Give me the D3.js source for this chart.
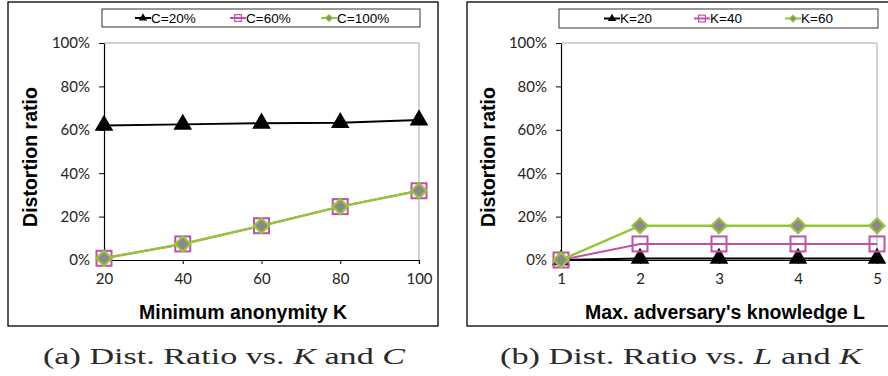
<!DOCTYPE html>
<html>
<head>
<meta charset="utf-8">
<script src="https://cdn.jsdelivr.net/npm/d3@7"></script>
<style>
  html, body { margin: 0; padding: 0; background: #fff; }
  svg { display: block; }
</style>
</head>
<body>
<svg id="chart" width="888" height="376"></svg>
<script>
  // data
  const kValues = [20, 40, 60, 80, 100];
  const lValues = [1, 2, 3, 4, 5];
  const yTicks = [0, 0.2, 0.4, 0.6, 0.8, 1.0];

  const c20 = [0.620, 0.625, 0.630, 0.633, 0.645];
  const c60 = [0.008, 0.074, 0.158, 0.246, 0.319];
  const c100 = [0.008, 0.074, 0.158, 0.246, 0.319];

  const k20 = [0.0, 0.007, 0.007, 0.007, 0.007];
  const k40 = [0.0, 0.074, 0.074, 0.074, 0.074];
  const k60 = [0.0, 0.158, 0.158, 0.158, 0.158];

  const PINK = "#c050aa", GREEN = "#98c43c", GRAY = "#8a8a8a";

  const styles = {
    tri:  { stroke: "#000", width: 2, marker: "tri" },
    sq:   { stroke: PINK, width: 2, marker: "sq" },
    dia:  { stroke: GREEN, width: 2.5, marker: "dia" }
  };

  const panels = [
    {
      frame: [8, 2, 438, 326],
      plot: { x0: 104, x1: 419, yTop: 43, yBot: 260 },
      cats: kValues,
      series: [
        { name: "C=20%", values: c20, st: styles.tri },
        { name: "C=60%", values: c60, st: styles.sq },
        { name: "C=100%", values: c100, st: styles.dia }
      ],
      legend: { box: [102, 9, 420, 27], items: [135, 230, 321] },
      xTitle: "Minimum anonymity K", xTitleX: 243,
      yTitleX: 30,
      caption: ["(a) Dist. Ratio vs. ", "K", " and ", "C"], capX: 224
    },
    {
      frame: [467, 2, 892, 326],
      plot: { x0: 561, x1: 877, yTop: 43, yBot: 260 },
      cats: lValues,
      series: [
        { name: "K=20", values: k20, st: styles.tri },
        { name: "K=40", values: k40, st: styles.sq },
        { name: "K=60", values: k60, st: styles.dia }
      ],
      legend: { box: [559, 9, 878, 28], items: [604, 694, 785] },
      xTitle: "Max. adversary's knowledge L", xTitleX: 725,
      yTitleX: 488,
      caption: ["(b) Dist. Ratio vs. ", "L", " and ", "K"], capX: 681
    }
  ];

  const svg = d3.select("#chart");

  function drawMarker(g, kind, x, y, scale) {
    const s = scale || 1;
    if (kind === "tri") {
      g.append("path")
        .attr("d", d3.symbol().type(d3.symbolTriangle).size(150 * s * s)())
        .attr("transform", `translate(${x},${y})`)
        .attr("fill", "#000");
    } else if (kind === "sq") {
      const h = 7.5 * s;
      g.append("rect")
        .attr("x", x - h).attr("y", y - h)
        .attr("width", 2 * h).attr("height", 2 * h)
        .attr("fill", "none").attr("stroke", PINK).attr("stroke-width", 2 * Math.max(s, 0.6));
    } else {
      const r = 7.5 * s;
      g.append("path")
        .attr("d", `M${x},${y - r}L${x + r},${y}L${x},${y + r}L${x - r},${y}Z`)
        .attr("fill", GRAY).attr("stroke", GREEN).attr("stroke-width", 2.2 * Math.max(s, 0.6));
    }
  }

  panels.forEach(p => {
    const g = svg.append("g");
    const [fx0, fy0, fx1, fy1] = p.frame;
    g.append("rect")
      .attr("x", fx0).attr("y", fy0)
      .attr("width", fx1 - fx0).attr("height", fy1 - fy0)
      .attr("fill", "none").attr("stroke", "#000").attr("stroke-width", 1.3);

    const x = d3.scalePoint().domain(p.cats).range([p.plot.x0, p.plot.x1]).padding(0);
    const y = d3.scaleLinear().domain([0, 1]).range([p.plot.yBot, p.plot.yTop]);

    // plot area border (top / right)
    g.append("path")
      .attr("d", `M${p.plot.x0},${p.plot.yTop}H${p.plot.x1}V${p.plot.yBot + 4}`)
      .attr("fill", "none").attr("stroke", "#a6a6a6").attr("stroke-width", 1);

    // y axis
    const yAxis = g.append("g")
      .attr("transform", `translate(${p.plot.x0},0)`)
      .call(d3.axisLeft(y).tickValues(yTicks).tickFormat(d3.format(".0%")).tickSize(5).tickSizeOuter(0));
    yAxis.attr("font-family", null).attr("font-size", null);
    yAxis.select(".domain").attr("stroke", "#000").attr("stroke-width", 1.2);
    yAxis.selectAll(".tick line").attr("stroke", "#000");
    yAxis.selectAll("text")
      .attr("x", -14)
      .style("font-family", "Lato, sans-serif").style("font-size", "15px").attr("fill", "#222");

    // x axis
    const xAxis = g.append("g")
      .attr("transform", `translate(0,${p.plot.yBot})`)
      .call(d3.axisBottom(x).tickSize(4).tickSizeOuter(0));
    xAxis.attr("font-family", null).attr("font-size", null);
    xAxis.select(".domain").attr("stroke", "#000").attr("stroke-width", 1.2);
    xAxis.selectAll(".tick line").attr("stroke", "#000");
    xAxis.selectAll("text")
      .attr("y", 13)
      .style("font-family", "Lato, sans-serif").style("font-size", "15px").attr("fill", "#222");

    // series
    const line = d3.line().x((d, i) => x(p.cats[i])).y(d => y(d));
    p.series.forEach(s => {
      g.append("path")
        .datum(s.values)
        .attr("d", line)
        .attr("fill", "none")
        .attr("stroke", s.st.stroke)
        .attr("stroke-width", s.st.width);
      s.values.forEach((v, i) => drawMarker(g, s.st.marker, x(p.cats[i]), y(v), 1));
    });

    // legend
    const [lx0, ly0, lx1, ly1] = p.legend.box;
    const ly = (ly0 + ly1) / 2;
    g.append("rect")
      .attr("x", lx0).attr("y", ly0)
      .attr("width", lx1 - lx0).attr("height", ly1 - ly0)
      .attr("fill", "#fff").attr("stroke", "#333").attr("stroke-width", 1);
    p.series.forEach((s, i) => {
      const sx = p.legend.items[i];
      g.append("line")
        .attr("x1", sx).attr("x2", sx + 16).attr("y1", ly).attr("y2", ly)
        .attr("stroke", s.st.stroke).attr("stroke-width", 2);
      drawMarker(g, s.st.marker, sx + 8, ly, 0.45);
      g.append("text")
        .attr("x", sx + 16).attr("y", ly)
        .attr("dominant-baseline", "central")
        .style("font-family", "'Liberation Sans', Arial, sans-serif").style("font-size", "13.5px")
        .attr("fill", "#000")
        .text(s.name);
    });

    // axis titles
    g.append("text")
      .attr("x", p.xTitleX).attr("y", 319)
      .attr("text-anchor", "middle")
      .style("font-family", "'Liberation Sans', Arial, sans-serif")
      .style("font-size", "19.5px").style("font-weight", "bold")
      .text(p.xTitle);
    g.append("text")
      .attr("transform", `translate(${p.yTitleX + 7},157) rotate(-90)`)
      .attr("text-anchor", "middle")
      .style("font-family", "'Liberation Sans', Arial, sans-serif")
      .style("font-size", "19.5px").style("font-weight", "bold")
      .text("Distortion ratio");

    // caption
    const cap = g.append("text")
      .attr("x", p.capX).attr("y", 364)
      .attr("text-anchor", "middle")
      .attr("textLength", 362).attr("lengthAdjust", "spacingAndGlyphs")
      .style("font-family", "'Liberation Serif', serif")
      .style("font-size", "23px").attr("fill", "#2a2a2a");
    p.caption.forEach((t, i) => {
      cap.append("tspan").style("font-style", i % 2 === 1 ? "italic" : "normal").text(t);
    });
  });
</script>
</body>
</html>
